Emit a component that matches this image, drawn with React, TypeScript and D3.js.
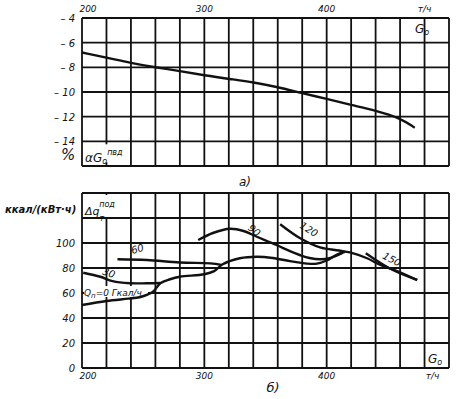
import React from 'react';
import * as d3 from 'd3';

// top panel (а): relative change of feed flow vs G0
const gTop = [200, 220, 240, 260, 280, 300, 321, 340, 360, 380, 400, 420, 440, 460, 472];
const dgTop = [-6.8, -7.2, -7.65, -8.0, -8.3, -8.65, -8.95, -9.2, -9.6, -10.1, -10.55, -11.05, -11.5, -12.1, -12.9];

// bottom panel (б): Δq_т for several Q_n, Гкал/ч
const q0G = [200, 220, 238, 247, 258, 264, 272, 280, 300, 308, 315, 329, 343, 356, 370, 384, 392, 400, 407, 415];
const q0V = [50.4, 53.6, 55.5, 56.6, 61, 67.8, 71, 73, 75, 77.5, 83, 87.8, 89, 88, 85.5, 83.5, 83.5, 86, 90, 93];
const q30G = [201, 215, 225, 239, 253, 264];
const q30V = [76.2, 73, 69.5, 67.8, 67.8, 68];
const q60G = [229, 253, 280, 305, 314];
const q60V = [87, 86.4, 84.4, 83.7, 82.5];
const q90G = [295, 307, 321, 332, 343, 359, 370, 378, 386, 395, 403, 413];
const q90V = [102.4, 108, 111.4, 109.6, 105, 98.4, 93.5, 90.4, 88, 87, 88, 92];
const q120G = [362, 378, 394.6, 410, 419, 433, 444, 457.5, 474];
const q120V = [115, 104, 96.5, 94, 92.5, 87.8, 82.4, 77.6, 70.4];
const q150G = [432, 452, 474];
const q150V = [91.8, 79.4, 70.4];

const xTicks = [200, 300, 400];
const topYTicks = [-4, -6, -8, -10, -12, -14];
const botYTicks = [0, 20, 40, 60, 80, 100];

const W = 466;
const H = 399;
const font = 'DejaVu Sans';

export default function App() {
  const x = d3.scaleLinear().domain([200, 500]).range([82, 449]);
  const yT = d3.scaleLinear().domain([-4, -16]).range([18, 166]);
  const yB = d3.scaleLinear().domain([0, 140]).range([368, 193]);

  const gridX = d3.range(200, 501, 20);
  const gridYT = d3.range(-4, -16.1, -2);
  const gridYB = d3.range(0, 141, 20);

  const lineT = d3.line<number>()
    .x((d, i) => x(gTop[i]))
    .y(d => yT(d))
    .curve(d3.curveBasis);

  const mk = (gs: number[], vs: number[]) =>
    d3.line<number>()
      .x((d, i) => x(gs[i]))
      .y(d => yB(d))
      .curve(d3.curveCatmullRom)(vs) || '';

  const curves = [
    [q0G, q0V], [q30G, q30V], [q60G, q60V], [q90G, q90V], [q120G, q120V], [q150G, q150V],
  ];

  const txt = { fontFamily: font, fontStyle: 'italic' as const, fill: '#111' };

  return (
    <svg width={W} height={H} style={{ position: 'absolute', left: 0, top: 0, background: '#fff' }}>
      {/* ---- top panel ---- */}
      <g stroke="#111" strokeWidth={1.8} fill="none">
        {gridX.map(g => (
          <line key={'tv' + g} x1={x(g)} x2={x(g)} y1={yT(-4)} y2={yT(-16)} />
        ))}
        {gridYT.map(v => (
          <line key={'th' + v} x1={x(200)} x2={x(500)} y1={yT(v)} y2={yT(v)} />
        ))}
      </g>
      {/* label cells */}
      <rect x={x(480) + 2} y={yT(-4) + 2} width={20} height={16} fill="#fff" />
      <rect x={x(200) + 2} y={yT(-14) + 3} width={42} height={18} fill="#fff" />
      <path d={lineT(dgTop) || ''} stroke="#111" strokeWidth={2.4} fill="none" />
      <text x={415} y={33} fontSize={12} {...txt}>G<tspan fontSize={8} dy={2}>o</tspan></text>
      <text x={85} y={162} fontSize={12} {...txt}>αG<tspan fontSize={8} dy={2}>o</tspan>
        <tspan fontSize={8} dy={-9}>пвд</tspan></text>
      <text x={61} y={160} fontSize={15} {...txt}>%</text>
      {topYTicks.map(v => (
        <text key={'tl' + v} x={75} y={yT(v) + 4} fontSize={10} textAnchor="end" {...txt}>
          {'– ' + Math.abs(v)}
        </text>
      ))}
      {xTicks.map(g => (
        <text key={'tx' + g} x={x(g) + (g === 200 ? 6 : 0)} y={12} fontSize={9} textAnchor="middle" {...txt}>{g}</text>
      ))}
      <text x={x(480)} y={12} fontSize={9} textAnchor="middle" {...txt}>т/ч</text>
      <text x={245} y={186} fontSize={12} textAnchor="middle" {...txt}>а)</text>

      {/* ---- bottom panel ---- */}
      <g stroke="#111" strokeWidth={1.8} fill="none">
        {gridX.map(g => (
          <line key={'bv' + g} x1={x(g)} x2={x(g)} y1={yB(140)} y2={yB(0)} />
        ))}
        {gridYB.map(v => (
          <line key={'bh' + v} x1={x(200)} x2={x(500)} y1={yB(v)} y2={yB(v)} />
        ))}
      </g>
      <rect x={x(200) + 2} y={yB(140) + 2} width={36} height={22} fill="#fff" />
      <rect x={x(480) + 2} y={yB(20) + 3} width={20} height={19} fill="#fff" />
      <rect x={x(200) + 2} y={yB(60) - 7} width={64} height={11} fill="#fff" />
      <g stroke="#111" strokeWidth={2.4} fill="none">
        {curves.map(([gs, vs], i) => <path key={'c' + i} d={mk(gs, vs)} />)}
      </g>
      <text x={5} y={213} fontSize={10} fontWeight="bold" {...txt}>ккал/(кВт·ч)</text>
      <text x={85} y={215} fontSize={11} {...txt}>Δq<tspan fontSize={8} dy={6}>т</tspan>
        <tspan fontSize={8} dx={-5} dy={-14}>под</tspan></text>
      {botYTicks.map(v => (
        <text key={'bl' + v} x={75} y={yB(v) + 4} fontSize={10} textAnchor="end" {...txt}>{v}</text>
      ))}
      {xTicks.map(g => (
        <text key={'bx' + g} x={x(g) + (g === 200 ? 6 : 0)} y={379} fontSize={9} textAnchor="middle" {...txt}>{g}</text>
      ))}
      <text x={x(480) + 8} y={379} fontSize={9} textAnchor="middle" {...txt}>т/ч</text>
      <text x={428} y={363} fontSize={12} {...txt}>G<tspan fontSize={8} dy={2}>o</tspan></text>
      <text x={273} y={392} fontSize={13} textAnchor="middle" {...txt}>б)</text>

      {/* curve labels */}
      <text x={84} y={296} fontSize={9} {...txt}>Q<tspan fontSize={7} dy={2}>п</tspan><tspan dy={-2}>=0 Гкал/ч</tspan></text>
      <text fontSize={10} {...txt} transform={`translate(${x(221)},${yB(73.5)}) rotate(18)`} textAnchor="middle">30</text>
      <text fontSize={10} {...txt} transform={`translate(${x(246)},${yB(92.5)}) rotate(-15)`} textAnchor="middle">60</text>
      <text fontSize={10} {...txt} transform={`translate(${x(339)},${yB(108)}) rotate(40)`} textAnchor="middle">90</text>
      <text fontSize={10} {...txt} transform={`translate(${x(384)},${yB(108.5)}) rotate(32)`} textAnchor="middle">120</text>
      <text fontSize={10} {...txt} transform={`translate(${x(452)},${yB(84.5)}) rotate(28)`} textAnchor="middle">150</text>
    </svg>
  );
}
